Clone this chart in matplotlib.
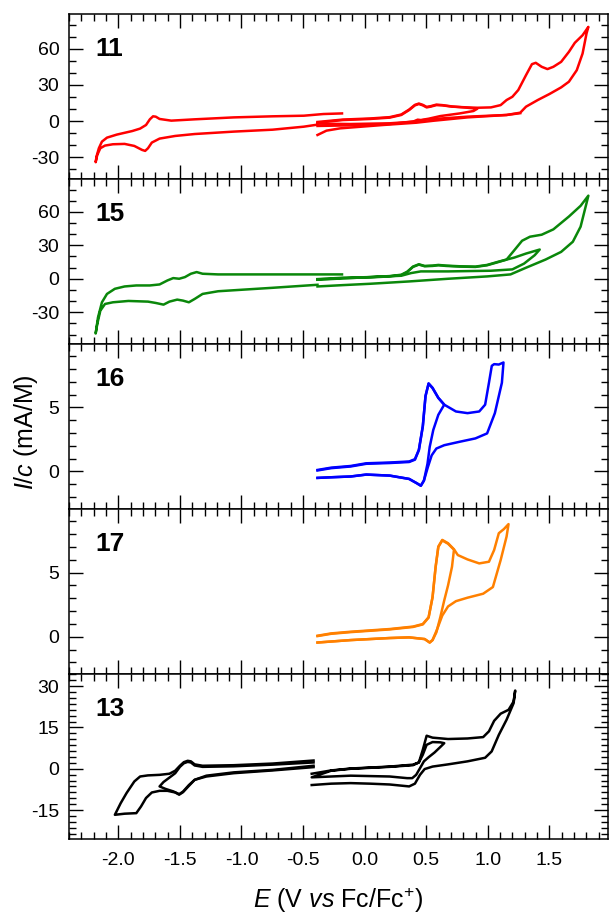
"""
Cyclic voltammograms of compounds 11, 15, 16, 17 and 13 (stacked panels).
Current normalised by concentration, potential vs Fc/Fc+.
"""

import matplotlib
matplotlib.use("Agg")
import matplotlib.pyplot as plt
from matplotlib.ticker import MultipleLocator, AutoMinorLocator

# ---- compound 11 (red) ----
E11_LEFT = [-0.184, -0.335, -0.494, -0.747, -1.063, -1.380, -1.570, -1.665, -1.696, -1.718,
            -1.744, -1.775, -1.823, -1.886, -2.013, -2.092, -2.133, -2.158, -2.177, -2.184,
            -2.171, -2.146, -2.108, -2.044, -1.949, -1.870, -1.807, -1.782, -1.759, -1.728,
            -1.665, -1.538, -1.380, -1.063, -0.747, -0.494, -0.383]
I11_LEFT = [6.3, 5.8, 4.4, 3.9, 3.0, 1.4, 0.3, 1.7, 3.6, 3.9,
            1.4, -3.3, -6.3, -8.3, -11.3, -13.8, -17.1, -22.6, -29.5, -34.2,
            -28.2, -22.6, -20.4, -19.3, -19.0, -20.7, -24.0, -24.8, -22.6, -17.9,
            -14.6, -12.4, -10.8, -8.8, -7.2, -4.7, -3.0]

E11_OUTER = [-0.383, -0.177, 0.044, 0.203, 0.297, 0.361, 0.408, 0.440, 0.472, 0.503,
             0.535, 0.582, 0.630, 0.709, 0.835, 0.915, 1.025, 1.104, 1.152, 1.199,
             1.247, 1.310, 1.358, 1.389, 1.437, 1.484, 1.532, 1.595, 1.658, 1.706,
             1.769, 1.816,
             1.801, 1.769, 1.722, 1.658, 1.595, 1.500, 1.405, 1.310, 1.263, 1.152,
             0.835, 0.519, 0.361, 0.203, -0.114, -0.383]
I11_OUTER = [-1.4, 0.8, 1.7, 2.8, 5.0, 9.1, 13.0, 14.1, 13.0, 11.3,
             11.9, 13.2, 13.0, 11.9, 11.3, 11.0, 11.3, 13.2, 17.4, 20.1,
             25.7, 38.1, 47.2, 48.3, 45.0, 43.1, 45.0, 49.1, 57.4, 64.9,
             71.2, 78.1,
             72.6, 56.0, 42.2, 32.6, 27.9, 22.4, 17.4, 11.9, 6.9, 5.0,
             3.6, 1.4, -0.8, -2.5, -3.6, -4.1]

E11_INNER = [-0.383, -0.177, 0.044, 0.203, 0.297, 0.361, 0.408, 0.440, 0.472, 0.503,
             0.535, 0.582, 0.630, 0.709, 0.835, 0.915,
             0.883, 0.772, 0.614, 0.519, 0.456, 0.430, 0.392, 0.203, -0.114, -0.383]
I11_INNER = [-0.8, 1.2, 2.1, 3.2, 5.4, 9.5, 13.4, 14.5, 13.4, 11.7,
             12.3, 13.6, 13.2, 12.1, 11.0, 10.2,
             8.3, 6.3, 4.1, 1.9, 0.8, 1.1, -0.6, -1.9, -2.5, -2.2]

E11_TAIL = [-0.383, -0.310, -0.200, 0.151, 0.420, 0.557, 0.835, 1.152, 1.263]
I11_TAIL = [-11.6, -8.0, -6.1, -3.3, -1.4, 0.2, 3.0, 5.0, 6.5]

# ---- compound 15 (green) ----
E15_LEFT = [-0.184, -0.747, -1.190, -1.316, -1.364, -1.411, -1.459, -1.506, -1.554, -1.601,
            -1.665, -1.744, -1.854, -1.949, -2.028, -2.092, -2.133, -2.165, -2.184,
            -2.171, -2.146, -2.108, -2.044, -1.918, -1.759, -1.696, -1.633, -1.585, -1.522,
            -1.475, -1.427, -1.380, -1.316, -1.190, -0.747, -0.383]
I15_LEFT = [3.9, 3.9, 3.9, 4.5, 6.0, 4.5, 1.5, 0.0, 0.6, -1.5,
            -5.1, -6.0, -6.0, -6.9, -9.0, -13.6, -21.1, -34.7, -49.1,
            -40.7, -28.6, -22.6, -21.1, -19.9, -20.5, -21.7, -23.2, -20.5, -18.7,
            -19.6, -21.1, -18.1, -13.6, -11.2, -8.1, -5.4]

E15_OUTER = [-0.383, -0.177, 0.044, 0.203, 0.297, 0.345, 0.392, 0.440, 0.487, 0.551,
             0.598, 0.661, 0.772, 0.899, 0.994, 1.089, 1.152, 1.215, 1.278, 1.342,
             1.437, 1.532, 1.658, 1.753, 1.816,
             1.801, 1.753, 1.690, 1.595, 1.468, 1.310, 1.184, 0.994, 0.677, 0.361,
             0.044, -0.177, -0.383]
I15_OUTER = [-0.6, 0.6, 1.2, 2.1, 3.3, 6.0, 10.6, 12.7, 11.2, 11.5,
             12.1, 11.5, 10.9, 10.6, 12.1, 15.1, 17.2, 25.6, 34.1, 37.7,
             39.5, 44.3, 55.8, 65.4, 74.5,
             67.8, 46.7, 33.2, 24.1, 17.2, 9.9, 3.9, 2.1, 0.0, -2.4,
             -4.5, -5.7, -6.9]

E15_INNER = [-0.383, -0.177, 0.044, 0.203, 0.297, 0.345, 0.392, 0.440, 0.487, 0.551,
             0.598, 0.661, 0.772, 0.899, 0.994, 1.089, 1.152, 1.215, 1.310, 1.421,
             1.380, 1.294, 1.199, 1.025, 0.677, 0.456, 0.377, 0.297, 0.044, -0.177, -0.383]
I15_INNER = [-0.3, 0.9, 1.5, 2.4, 3.6, 6.3, 10.9, 13.0, 11.5, 11.8,
             12.4, 11.8, 11.2, 10.9, 12.4, 15.4, 17.2, 19.0, 22.6, 26.2,
             21.1, 13.6, 8.4, 7.2, 6.6, 6.6, 5.1, 2.7, 1.5, 0.3, -0.9]

# ---- compound 16 (blue) ----
E16_INNER = [-0.383, -0.272, -0.114, 0.013, 0.203, 0.361, 0.408, 0.440, 0.472, 0.494,
             0.519, 0.551, 0.598, 0.646,
             0.598, 0.557, 0.528, 0.510, 0.481, 0.456, 0.424, 0.361, 0.203, 0.013,
             -0.114, -0.272, -0.383]
I16_INNER = [0.08, 0.26, 0.39, 0.60, 0.66, 0.74, 0.92, 1.66, 3.50, 5.87,
             6.87, 6.53, 5.74, 5.21,
             4.42, 3.24, 1.92, 0.60, -0.71, -1.11, -0.92, -0.58, -0.32, -0.24,
             -0.39, -0.45, -0.50]

E16_OUTER = [-0.383, -0.272, -0.114, 0.013, 0.203, 0.361, 0.408, 0.440, 0.472, 0.494,
             0.519, 0.551, 0.598, 0.646, 0.741, 0.835, 0.930, 0.978, 1.009, 1.032,
             1.051, 1.089, 1.127,
             1.114, 1.057, 0.994, 0.899, 0.772, 0.646, 0.582, 0.544, 0.513, 0.481,
             0.456, 0.424, 0.361, 0.203, 0.013, -0.114, -0.272, -0.383]
I16_OUTER = [0.12, 0.30, 0.43, 0.64, 0.70, 0.78, 0.96, 1.70, 3.55, 5.90,
             6.85, 6.50, 5.74, 5.21, 4.68, 4.55, 4.68, 5.21, 6.92, 8.24,
             8.37, 8.34, 8.50,
             6.92, 4.55, 2.97, 2.58, 2.32, 2.05, 1.79, 1.26, 0.34, -0.71,
             -1.11, -0.92, -0.58, -0.32, -0.24, -0.39, -0.45, -0.50]

# ---- compound 17 (orange) ----
E17_INNER = [-0.383, -0.272, -0.114, 0.203, 0.392, 0.472, 0.519, 0.551, 0.576, 0.598,
             0.630, 0.677, 0.725,
             0.709, 0.677, 0.646, 0.614, 0.582, 0.551, 0.528, 0.487, 0.361, 0.203,
             -0.114, -0.383]
I17_INNER = [0.05, 0.23, 0.36, 0.57, 0.76, 0.96, 1.49, 3.06, 5.42, 6.99,
             7.50, 7.24, 6.78,
             5.45, 4.00, 2.83, 1.52, 0.34, -0.26, -0.45, -0.18, -0.05, -0.10,
             -0.26, -0.45]

E17_OUTER = [-0.383, -0.272, -0.114, 0.203, 0.392, 0.472, 0.519, 0.551, 0.576, 0.598,
             0.630, 0.677, 0.725, 0.756, 0.835, 0.930, 1.009, 1.051, 1.089, 1.130,
             1.168,
             1.152, 1.104, 1.041, 0.962, 0.835, 0.741, 0.677, 0.630, 0.589, 0.551,
             0.528, 0.487, 0.361, 0.203, -0.114, -0.383]
I17_OUTER = [0.08, 0.26, 0.39, 0.60, 0.79, 0.99, 1.52, 3.09, 5.45, 7.02,
             7.54, 7.28, 6.81, 6.36, 6.02, 5.71, 5.84, 6.75, 8.06, 8.38,
             8.77,
             7.80, 5.97, 3.87, 3.35, 3.04, 2.77, 2.36, 1.65, 0.60, -0.26,
             -0.45, -0.18, -0.05, -0.10, -0.26, -0.45]

# ---- compound 13 (black) ----
E13_LEFT_OUTER = [-0.415, -0.747, -1.063, -1.316, -1.380, -1.411, -1.437, -1.468, -1.500,
                  -1.538, -1.585, -1.665, -1.760, -1.823, -1.870, -1.933, -1.981, -2.028,
                  -1.949, -1.854, -1.816, -1.775, -1.728, -1.665, -1.601, -1.538, -1.506,
                  -1.475, -1.427, -1.380, -1.285, -1.063, -0.747, -0.415]
I13_LEFT_OUTER = [3.0, 1.9, 1.3, 1.1, 1.6, 2.7, 2.9, 2.4, 1.1,
                  -0.7, -1.8, -2.2, -2.4, -2.8, -4.6, -8.8, -12.5, -16.7,
                  -16.3, -16.1, -13.7, -10.6, -8.6, -8.0, -8.0, -8.6, -9.4,
                  -8.5, -6.2, -4.0, -2.8, -1.6, -0.6, 0.6]

E13_LEFT_INNER = [-0.415, -0.747, -1.063, -1.316, -1.380, -1.411, -1.437, -1.468, -1.500,
                  -1.538, -1.585, -1.633, -1.665,
                  -1.617, -1.554, -1.506, -1.475, -1.427, -1.380, -1.285, -1.063, -0.747,
                  -0.415]
I13_LEFT_INNER = [2.3, 1.5, 0.9, 0.7, 1.2, 2.3, 2.5, 2.0, 0.7,
                  -1.6, -3.2, -4.8, -6.4,
                  -7.3, -8.2, -9.2, -8.3, -5.9, -4.0, -2.5, -1.3, -0.4,
                  1.1]

E13_RIGHT = [-0.430, -0.272, -0.114, 0.203, 0.392, 0.440, 0.472, 0.503, 0.551, 0.614,
             0.646,
             0.614, 0.567, 0.519, 0.481, 0.449, 0.418, 0.386, 0.345, 0.203, -0.114,
             -0.430,
             -0.272, -0.114, 0.203, 0.392, 0.440, 0.472, 0.503, 0.551, 0.677, 0.835,
             0.962, 1.009, 1.051, 1.104, 1.168, 1.209, 1.222,
             1.209, 1.152, 1.089, 1.031, 0.978, 0.835, 0.677, 0.551, 0.487, 0.449,
             0.408, 0.361, 0.203, 0.044, -0.114, -0.272, -0.430]
I13_RIGHT = [-1.8, -0.6, 0.1, 0.8, 1.5, 2.3, 5.1, 8.7, 9.7, 9.6,
             9.3,
             7.9, 5.9, 4.2, 2.7, 0.2, -2.2, -3.4, -3.4, -2.8, -2.5,
             -3.1,
             -0.7, 0.0, 0.7, 1.3, 2.3, 6.9, 12.0, 11.3, 10.8, 11.0,
             11.5, 13.6, 17.4, 20.0, 21.4, 24.4, 28.4,
             23.8, 17.8, 12.3, 6.3, 4.0, 2.7, 1.6, 0.8, -0.1, -2.2,
             -5.4, -6.4, -5.7, -5.4, -5.2, -5.4, -5.9]

LABELS = ["11", "15", "16", "17", "13"]
COLORS = ["#ff0000", "#0a870a", "#0000ff", "#ff8000", "#000000"]
YLIMS = [(-48, 89), (-58.4, 89.6), (-2.92, 9.95), (-2.9, 9.95), (-25.5, 34.4)]
YMAJOR = [30, 30, 5, 5, 15]
XTICKS = [-2.0, -1.5, -1.0, -0.5, 0.0, 0.5, 1.0, 1.5]


def build_panels():
    return [
        [(E11_LEFT, I11_LEFT), (E11_OUTER, I11_OUTER), (E11_INNER, I11_INNER),
         (E11_TAIL, I11_TAIL)],
        [(E15_LEFT, I15_LEFT), (E15_OUTER, I15_OUTER), (E15_INNER, I15_INNER)],
        [(E16_INNER, I16_INNER), (E16_OUTER, I16_OUTER)],
        [(E17_INNER, I17_INNER), (E17_OUTER, I17_OUTER)],
        [(E13_LEFT_OUTER, I13_LEFT_OUTER), (E13_LEFT_INNER, I13_LEFT_INNER),
         (E13_RIGHT, I13_RIGHT)],
    ]


def main():
    plt.rcParams['font.family'] = ['Liberation Sans', 'DejaVu Sans']
    plt.rcParams['mathtext.fontset'] = 'custom'
    plt.rcParams['mathtext.rm'] = 'Liberation Sans'
    plt.rcParams['mathtext.it'] = 'Liberation Sans:italic'
    plt.rcParams['axes.unicode_minus'] = False

    fig, axes = plt.subplots(5, 1, sharex=True, figsize=(6.11, 9.19), dpi=100)
    fig.subplots_adjust(left=0.113, right=0.995, top=0.985, bottom=0.087, hspace=0)

    panels = build_panels()
    for k, ax in enumerate(axes):
        for e, i in panels[k]:
            ax.plot(e, i, color=COLORS[k], linewidth=1.8, solid_joinstyle='round')
        ax.set_ylim(*YLIMS[k])
        ax.yaxis.set_major_locator(MultipleLocator(YMAJOR[k]))
        if k < 2:
            ax.yaxis.set_minor_locator(MultipleLocator(10))
        elif k < 4:
            ax.yaxis.set_minor_locator(MultipleLocator(1))
        else:
            ax.yaxis.set_minor_locator(AutoMinorLocator(7))
        ax.text(0.048, 0.745, LABELS[k], transform=ax.transAxes, fontsize=19,
                fontweight='bold', va='baseline', ha='left')
        for sp in ax.spines.values():
            sp.set_linewidth(1.1)
        ax.tick_params(which='both', direction='in', top=True, right=True,
                       width=1.0, labelsize=14)
        ax.tick_params(which='major', length=10)
        ax.tick_params(which='minor', length=5)
        ax.tick_params(axis='y', pad=7)
        ax.tick_params(axis='x', pad=9)

    ax = axes[-1]
    ax.set_xlim(-2.4, 1.975)
    ax.set_xticks(XTICKS)
    ax.set_xticklabels([f"{v:.1f}" for v in XTICKS])
    ax.xaxis.set_minor_locator(AutoMinorLocator(5))
    ax.set_xlabel(r'$E$ (V $vs$ Fc/Fc$^{+}$)', fontsize=18, labelpad=12)

    fig.text(0.042, 0.53, r'$I/c$ (mA/M)', rotation=90, fontsize=18,
             ha='center', va='center')

    fig.savefig("out.png", dpi=100)


if __name__ == '__main__':
    main()
